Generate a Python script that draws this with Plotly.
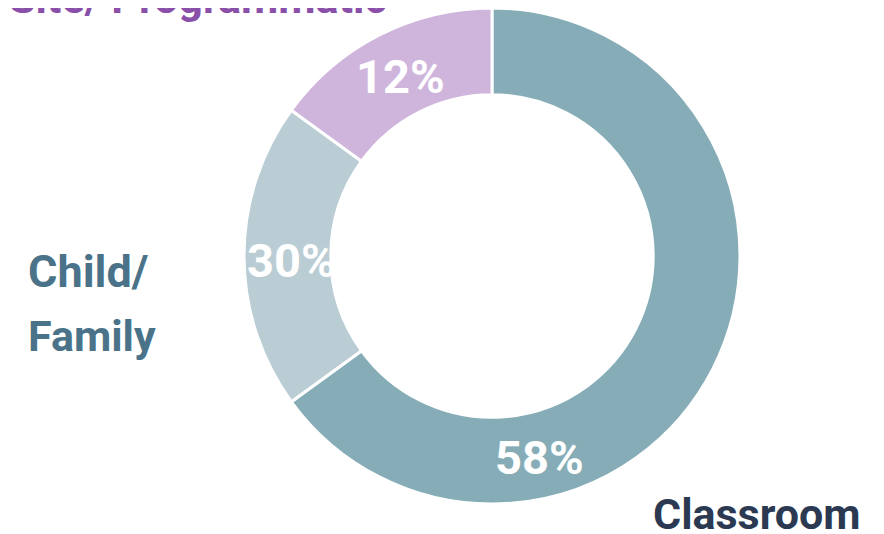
import plotly.graph_objects as go

categories = ["Classroom", "Child/ Family", "Site/ Programmatic"]
# slice sizes as drawn in the picture (angular shares)
values = [65, 20, 15]
# printed labels (as shown on the chart)
pct_labels = ["58%", "30%", "12%"]
slice_colors = ["#86ADB7", "#BBCDD4", "#CFB4DC"]
label_colors = ["#2B3A52", "#4A7389", "#8A4FA8"]

W, H = 884, 534
FONT = "Roboto, DejaVu Sans Condensed, sans-serif"
PCT_SIZE = 47
LBL_SIZE = 43

fig = go.Figure()
fig.add_trace(go.Pie(
    labels=categories,
    values=values,
    sort=False,
    direction="clockwise",
    rotation=0,
    hole=0.65,
    marker=dict(colors=slice_colors, line=dict(color="white", width=3)),
    textinfo="none",
    hoverinfo="label",
    showlegend=False,
    domain=dict(x=[236 / W, 732 / W], y=[1 - 496 / H, 1]),
))


def px(x):
    return x / W


def py(y):
    return 1 - y / H


child_l1, child_l2 = categories[1].split(" ")
annotations = [
    # percentages
    dict(x=px(531), y=py(449), text=f"<b>{pct_labels[0]}</b>", font=dict(size=PCT_SIZE, color="white", family=FONT)),
    dict(x=px(283), y=py(252), text=f"<b>{pct_labels[1]}</b>", font=dict(size=PCT_SIZE, color="white", family=FONT)),
    dict(x=px(392), y=py(69), text=f"<b>{pct_labels[2]}</b>", font=dict(size=PCT_SIZE, color="white", family=FONT)),
    # category labels
    dict(x=px(855), y=py(506), text=f"<b>{categories[0]}</b>", xanchor="right",
         font=dict(size=LBL_SIZE, color=label_colors[0], family=FONT)),
    dict(x=px(18), y=py(263), text=f"<b>{child_l1}</b>", xanchor="left",
         font=dict(size=LBL_SIZE + 2, color=label_colors[1], family=FONT)),
    dict(x=px(18), y=py(328), text=f"<b>{child_l2}</b>", xanchor="left",
         font=dict(size=LBL_SIZE, color=label_colors[1], family=FONT)),
    dict(x=px(-1), y=py(-10), text=f"<b>{categories[2]}</b>", xanchor="left",
         font=dict(size=LBL_SIZE, color=label_colors[2], family=FONT)),
]
for a in annotations:
    a.setdefault("xanchor", "center")
    a["yanchor"] = "middle"
    a["xref"] = "paper"
    a["yref"] = "paper"
    a["showarrow"] = False

fig.update_layout(
    width=W, height=H,
    margin=dict(l=0, r=0, t=0, b=0),
    paper_bgcolor="white",
    plot_bgcolor="white",
    annotations=annotations,
)

fig.write_html("out.html")
